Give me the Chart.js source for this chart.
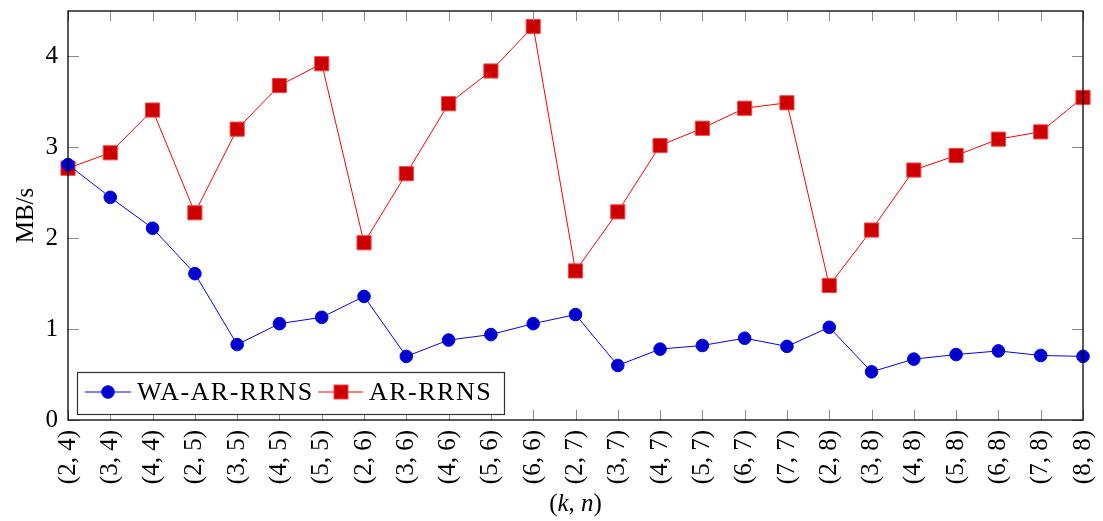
<!DOCTYPE html>
<html>
<head>
<meta charset="utf-8">
<script src="https://cdn.jsdelivr.net/npm/chart.js@4/dist/chart.umd.min.js"></script>
<style>
  html, body { margin: 0; padding: 0; background: #fff; }
  #wrap { width: 1103px; height: 521px; }
</style>
</head>
<body>
<div id="wrap"><canvas id="chart" width="1103" height="521"></canvas></div>
<script>
// (k, n) pairs along the x axis
const categories = [
  '(2, 4)', '(3, 4)', '(4, 4)',
  '(2, 5)', '(3, 5)', '(4, 5)', '(5, 5)',
  '(2, 6)', '(3, 6)', '(4, 6)', '(5, 6)', '(6, 6)',
  '(2, 7)', '(3, 7)', '(4, 7)', '(5, 7)', '(6, 7)', '(7, 7)',
  '(2, 8)', '(3, 8)', '(4, 8)', '(5, 8)', '(6, 8)', '(7, 8)', '(8, 8)'
];

const waArRrns = [
  2.81, 2.45, 2.11,
  1.61, 0.83, 1.06, 1.13,
  1.36, 0.70, 0.88, 0.94, 1.06,
  1.16, 0.60, 0.78, 0.82, 0.90, 0.81,
  1.02, 0.53, 0.67, 0.72, 0.76, 0.71, 0.70
];

const arRrns = [
  2.77, 2.94, 3.41,
  2.28, 3.20, 3.68, 3.92,
  1.95, 2.71, 3.48, 3.84, 4.33,
  1.64, 2.29, 3.02, 3.21, 3.43, 3.49,
  1.48, 2.09, 2.75, 2.91, 3.09, 3.17, 3.55
];

const yTicks = [0, 1, 2, 3, 4];

const SERIF = "'Liberation Serif', 'DejaVu Serif', serif";

// frame, inside tick marks, axis titles and the boxed legend, drawn like pgfplots does
const pgfDecor = {
    id: 'pgfDecor',
    afterDatasetsDraw(chart) {
        const {ctx, chartArea: a, scales} = chart;
        const x = scales.x, y = scales.y;
        ctx.save();

        // inside ticks
        ctx.strokeStyle = '#8a8a8a';
        ctx.lineWidth = 1;
        ctx.beginPath();
        x.ticks.forEach((t, i) => {
            const px = Math.round(x.getPixelForTick(i)) + 0.5;
            ctx.moveTo(px, a.bottom); ctx.lineTo(px, a.bottom - 10);
            ctx.moveTo(px, a.top); ctx.lineTo(px, a.top + 10);
        });
        yTicks.forEach(v => {
            const py = Math.round(y.getPixelForValue(v)) + 0.5;
            ctx.moveTo(a.left, py); ctx.lineTo(a.left + 11, py);
            ctx.moveTo(a.right, py); ctx.lineTo(a.right - 11, py);
        });
        ctx.stroke();

        // frame
        ctx.strokeStyle = '#000';
        ctx.lineWidth = 1.3;
        ctx.strokeRect(a.left, a.top, a.right - a.left, a.bottom - a.top);

        // legend
        const lx = a.left + 9, ly = a.bottom - 48, lw = 427, lh = 42;
        ctx.fillStyle = '#fff';
        ctx.fillRect(lx, ly, lw, lh);
        ctx.strokeStyle = '#333';
        ctx.lineWidth = 1.2;
        ctx.strokeRect(lx + 0.5, ly + 0.5, lw, lh);
        const cy = ly + 20;
        ctx.lineWidth = 1;
        // blue entry
        ctx.strokeStyle = '#0000ff';
        ctx.beginPath(); ctx.moveTo(lx + 8, cy); ctx.lineTo(lx + 54, cy); ctx.stroke();
        ctx.fillStyle = '#0000cc';
        ctx.beginPath(); ctx.arc(lx + 31, cy, 6.3, 0, Math.PI * 2); ctx.fill();
        ctx.strokeStyle = '#0000ff'; ctx.stroke();
        // red entry
        ctx.strokeStyle = '#ff0000';
        ctx.beginPath(); ctx.moveTo(lx + 241, cy); ctx.lineTo(lx + 286, cy); ctx.stroke();
        ctx.fillStyle = '#cc0000';
        ctx.fillRect(lx + 257, cy - 7, 14, 14);
        ctx.strokeStyle = '#ff4040';
        ctx.strokeRect(lx + 257, cy - 7, 14, 14);

        ctx.fillStyle = '#000';
        ctx.font = '26px ' + SERIF;
        ctx.textBaseline = 'middle';
        ctx.textAlign = 'left';
        ctx.letterSpacing = '1.5px';
        ctx.fillText('WA-AR-RRNS', lx + 60, cy + 1);
        ctx.fillText('AR-RRNS', lx + 292, cy + 1);
        ctx.letterSpacing = '0px';

        // y title
        ctx.save();
        ctx.translate(26, (a.top + a.bottom) / 2);
        ctx.rotate(-Math.PI / 2);
        ctx.textAlign = 'center';
        ctx.font = '25px ' + SERIF;
        ctx.fillText('MB/s', 0, 0);
        ctx.restore();

        // x title (k, n) with italic variables
        const parts = [['(', false], ['k', true], [', ', false], ['n', true], [')', false]];
        const fontOf = it => (it ? 'italic ' : '') + '25px ' + SERIF;
        let total = 0;
        parts.forEach(([s, it]) => { ctx.font = fontOf(it); total += ctx.measureText(s).width; });
        let tx = (a.left + a.right) / 2 - total / 2;
        ctx.textAlign = 'left';
        parts.forEach(([s, it]) => {
            ctx.font = fontOf(it);
            ctx.fillText(s, tx, 504);
            tx += ctx.measureText(s).width;
        });

        ctx.restore();
    }
};

new Chart(document.getElementById('chart'), {
    type: 'line',
    data: {
        labels: categories,
        datasets: [
            {
                label: 'WA-AR-RRNS',
                data: waArRrns,
                borderColor: '#0000ff',
                borderWidth: 1,
                backgroundColor: '#0000cc',
                pointStyle: 'circle',
                pointRadius: 6.3,
                pointBorderColor: '#0000ff',
                pointBorderWidth: 1,
                tension: 0,
                clip: false
            },
            {
                label: 'AR-RRNS',
                data: arRrns,
                borderColor: '#ff0000',
                borderWidth: 1,
                backgroundColor: '#cc0000',
                pointStyle: 'rect',
                pointRadius: 10,
                pointBorderColor: '#ff4040',
                pointBorderWidth: 1,
                tension: 0,
                clip: false
            }
        ]
    },
    options: {
        responsive: false,
        animation: false,
        layout: { padding: { left: 0, right: 20, top: 10, bottom: 0 } },
        plugins: {
            legend: { display: false },
            tooltip: { enabled: false }
        },
        scales: {
            x: {
                offset: false,
                grid: { display: false, drawTicks: false },
                border: { display: false },
                ticks: {
                    autoSkip: false,
                    minRotation: 90,
                    maxRotation: 90,
                    padding: 10,
                    color: '#000',
                    font: { family: SERIF, size: 25 }
                },
                afterFit(scale) {
                    scale.height = 101;
                    scale.paddingLeft = 0;
                    scale.paddingRight = 0;
                }
            },
            y: {
                min: 0,
                max: 4.5,
                grid: { display: false, drawTicks: false },
                border: { display: false },
                ticks: {
                    stepSize: 1,
                    padding: 10,
                    color: '#000',
                    font: { family: SERIF, size: 25 },
                    callback: v => (yTicks.includes(v) ? String(v) : '')
                },
                afterFit(scale) {
                    scale.width = 68;
                    scale.paddingTop = 0;
                    scale.paddingBottom = 0;
                }
            }
        }
    },
    plugins: [pgfDecor]
});
</script>
</body>
</html>
